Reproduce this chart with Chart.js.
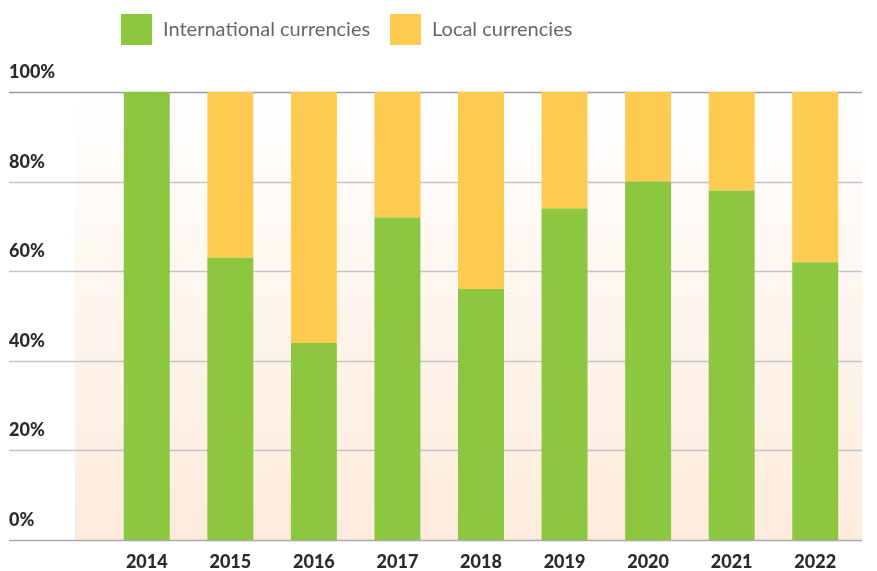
<!DOCTYPE html>
<html>
<head>
<meta charset="utf-8">
<script src="https://cdn.jsdelivr.net/npm/chart.js@4"></script>
<style>
  body { margin: 0; background: #fff; }
  #wrap { position: relative; width: 877px; height: 571px; }
  .legend { position: absolute; top: 14px; height: 31px; display: flex; align-items: center; font-family: Lato, sans-serif; font-size: 20px; line-height: 1; color: #666; }
  .legend span.box { display: inline-block; width: 31px; height: 31px; margin-right: 11px; }
  .legend span.txt { position: relative; top: -2px; }
</style>
</head>
<body>
<div id="wrap">
  <div class="legend" style="left:121px"><span class="box" style="background:#8dc63f"></span><span class="txt">International currencies</span></div>
  <div class="legend" style="left:390px"><span class="box" style="background:#fdcb50"></span><span class="txt">Local currencies</span></div>
  <canvas id="chart"></canvas>
</div>
<script>
const years = ['2014', '2015', '2016', '2017', '2018', '2019', '2020', '2021', '2022'];
const international = [100, 63, 44, 72, 56, 74, 80, 78, 62];
const local = [0, 37, 56, 28, 44, 26, 20, 22, 38];
const yTicks = [0, 20, 40, 60, 80, 100];

// fondo degradado, lineas de la grilla y etiquetas del eje y
const backdrop = {
  id: 'backdrop',
  beforeDatasetsDraw(chart) {
    const { ctx, chartArea, scales: { y } } = chart;
    const left = chartArea.left - 30;
    const right = chartArea.right + 5;
    ctx.save();
    const g = ctx.createLinearGradient(0, chartArea.top, 0, chartArea.bottom);
    g.addColorStop(0, '#ffffff');
    g.addColorStop(1, '#fdebdc');
    ctx.fillStyle = g;
    ctx.fillRect(left, chartArea.top, right - left, chartArea.bottom - chartArea.top);

    ctx.font = '900 18px Lato, sans-serif';
    ctx.textBaseline = 'middle';
    ctx.textAlign = 'left';
    yTicks.forEach(v => {
      const py = Math.round(y.getPixelForValue(v)) + 0.5;
      ctx.strokeStyle = (v === 100) ? '#9d9bab' : (v === 0 ? '#aaa8b3' : '#c5c2c8');
      ctx.lineWidth = 1.5;
      ctx.beginPath();
      ctx.moveTo(9, py);
      ctx.lineTo(right, py);
      ctx.stroke();
      ctx.fillStyle = '#2b2b2b';
      ctx.fillText(v + '%', 9, py - 20);
    });
    ctx.restore();
  }
};

new Chart(document.getElementById('chart'), {
  type: 'bar',
  data: {
    labels: years,
    datasets: [
      { label: 'International currencies', data: international, backgroundColor: '#8dc63f' },
      { label: 'Local currencies', data: local, backgroundColor: '#fdcb50' }
    ]
  },
  options: {
    responsive: true,
    maintainAspectRatio: false,
    animation: false,
    layout: { padding: { top: 92, left: 105, right: 20, bottom: 0 } },
    datasets: { bar: { barPercentage: 0.55, categoryPercentage: 1 } },
    plugins: { legend: { display: false }, tooltip: { enabled: false } },
    scales: {
      x: {
        stacked: true,
        grid: { display: false, drawTicks: false },
        border: { display: false },
        afterFit(scale) { scale.height = 31; },
        ticks: { padding: 11, color: '#2b2b2b', font: { family: 'Lato, sans-serif', size: 18, weight: '900' } }
      },
      y: {
        stacked: true,
        display: false,
        min: 0,
        max: 100,
        ticks: { stepSize: 20 }
      }
    }
  },
  plugins: [backdrop]
});
</script>
</body>
</html>
